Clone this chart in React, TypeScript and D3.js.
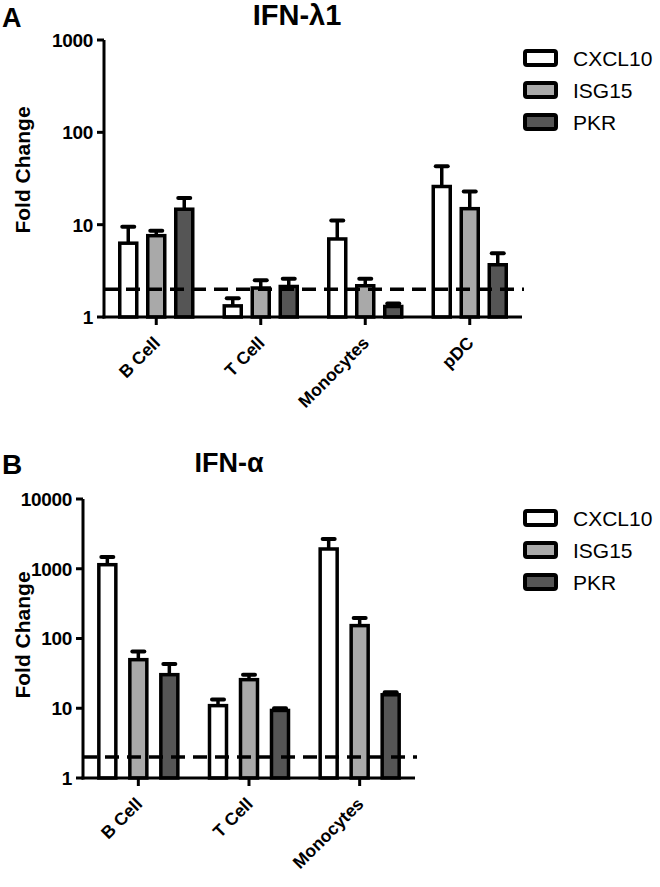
import React from "react";
import * as d3 from "d3";

const seriesNames = ["CXCL10", "ISG15", "PKR"];
const seriesFill = ["#ffffff", "#a9a9a9", "#555555"];

const catsA = ["B Cell", "T Cell", "Monocytes", "pDC"];
const meanA_CXCL10 = [6.3, 1.32, 7.0, 25.9];
const errA_CXCL10 = [9.5, 1.6, 11.1, 43];
const meanA_ISG15 = [7.6, 2.06, 2.18, 14.9];
const errA_ISG15 = [8.6, 2.5, 2.6, 22.9];
const meanA_PKR = [14.7, 2.14, 1.3, 3.68];
const errA_PKR = [19.4, 2.6, 1.4, 4.9];
const ticksA = [1, 10, 100, 1000];

const catsB = ["B Cell", "T Cell", "Monocytes"];
const meanB_CXCL10 = [1143, 10.9, 1920];
const errB_CXCL10 = [1474, 13.3, 2670];
const meanB_ISG15 = [49.7, 25.7, 153];
const errB_ISG15 = [65.3, 30.3, 197];
const meanB_PKR = [30.3, 9.3, 15.6];
const errB_PKR = [43, 10, 16.9];
const ticksB = [1, 10, 100, 1000, 10000];

const threshold = 2;

type PanelProps = {
  letter: string;
  letterY: number;
  letterSize: number;
  title: string;
  titleX: number;
  titleY: number;
  titleSize: number;
  labelY: number;
  cats: string[];
  means: number[][];
  errs: number[][];
  ticks: number[];
  x0: number;
  x1: number;
  yTop: number;
  yBottom: number;
  groupHalf: number;
  legendX: number;
  legendY: number;
};

function Panel(p: PanelProps) {
  const maxTick = p.ticks[p.ticks.length - 1];
  const y = d3.scaleLog().domain([1, maxTick]).range([p.yBottom, p.yTop]);
  const xc = d3.scaleBand<string>().domain(p.cats).range([p.x0, p.x1]);
  const step = (2 * p.groupHalf) / 3;
  const barW = 17;
  const xs = d3
    .scaleBand<string>()
    .domain(seriesNames)
    .range([-p.groupHalf, p.groupHalf])
    .paddingInner(1 - barW / step)
    .paddingOuter((1 - barW / step) / 2);
  const font = "'Liberation Sans', Arial, sans-serif";
  const axisY = p.yBottom;
  return (
    <g>
      <text x={2} y={p.letterY} fontSize={p.letterSize} fontWeight="bold" fontFamily={font}>{p.letter}</text>
      <text x={p.titleX} y={p.titleY} fontSize={p.titleSize} fontWeight="bold" fontFamily={font} textAnchor="middle">{p.title}</text>
      <text
        transform={`translate(30,${p.labelY}) rotate(-90)`}
        fontSize={21}
        fontWeight="bold"
        fontFamily={font}
        textAnchor="middle"
      >Fold Change</text>
      {p.cats.map((c, ci) => (
        <g key={c}>
          {seriesNames.map((s, si) => {
            const cx = (xc(c) as number) + xc.bandwidth() / 2;
            const bx = cx + (xs(s) as number);
            const m = p.means[si][ci];
            const e = p.errs[si][ci];
            const bxc = bx + xs.bandwidth() / 2;
            return (
              <g key={s}>
                <line x1={bxc} x2={bxc} y1={y(m)} y2={y(e)} stroke="#000" strokeWidth={3.5} />
                <line x1={bxc - 6} x2={bxc + 6} y1={y(e)} y2={y(e)} stroke="#000" strokeWidth={4} strokeLinecap="round" />
                <rect x={bx} y={y(m)} width={xs.bandwidth()} height={axisY - y(m)} fill={seriesFill[si]} stroke="#000" strokeWidth={3.5} />
              </g>
            );
          })}
        </g>
      ))}
      <line x1={p.x0} x2={p.x1 + 2} y1={y(threshold)} y2={y(threshold)} stroke="#000" strokeWidth={3.5} strokeDasharray="14,8" />
      <line x1={p.x0} x2={p.x0} y1={p.yTop} y2={axisY + 1.5} stroke="#000" strokeWidth={3} />
      {p.ticks.map((t) => (
        <g key={t}>
          <line x1={p.x0 - 7} x2={p.x0} y1={y(t)} y2={y(t)} stroke="#000" strokeWidth={3} />
          <text x={p.x0 - 11} y={y(t)} dy="0.36em" fontSize={19} fontWeight="bold" fontFamily={font} textAnchor="end" letterSpacing={-0.3}>{t}</text>
        </g>
      ))}
      <line x1={p.x0 - 1.5} x2={p.x1} y1={axisY} y2={axisY} stroke="#000" strokeWidth={3} />
      {p.cats.map((c) => {
        const cx = (xc(c) as number) + xc.bandwidth() / 2;
        return (
          <g key={c}>
            <line x1={cx} x2={cx} y1={axisY} y2={axisY + 8} stroke="#000" strokeWidth={3} />
            <text
              transform={`translate(${cx + 5},${axisY + 27}) rotate(-45)`}
              fontSize={17.5}
              fontWeight="bold"
              fontFamily={font}
              textAnchor="end"
            >{c}</text>
          </g>
        );
      })}
      {seriesNames.map((s, si) => (
        <g key={s} transform={`translate(${p.legendX},${p.legendY + si * 32})`}>
          <rect x={0} y={-7} width={31} height={14} rx={2} fill={seriesFill[si]} stroke="#000" strokeWidth={4} />
          <text x={48} y={0} dy="0.36em" fontSize={21} fontFamily={font}>{s}</text>
        </g>
      ))}
    </g>
  );
}

export default function App() {
  return (
    <svg width={660} height={887} style={{ position: "absolute", left: 0, top: 0, background: "#fff" }}>
      <rect width={660} height={887} fill="#fff" />
      <Panel
        letter="A"
        letterY={27}
        letterSize={27}
        title="IFN-λ1"
        titleX={297}
        titleY={25}
        titleSize={29}
        labelY={170}
        cats={catsA}
        means={[meanA_CXCL10, meanA_ISG15, meanA_PKR]}
        errs={[errA_CXCL10, errA_ISG15, errA_PKR]}
        ticks={ticksA}
        x0={104}
        x1={522}
        yTop={40}
        yBottom={317}
        groupHalf={42}
        legendX={525}
        legendY={58}
      />
      <Panel
        letter="B"
        letterY={474}
        letterSize={28}
        title="IFN-α"
        titleX={229}
        titleY={472}
        titleSize={27}
        labelY={635}
        cats={catsB}
        means={[meanB_CXCL10, meanB_ISG15, meanB_PKR]}
        errs={[errB_CXCL10, errB_ISG15, errB_PKR]}
        ticks={ticksB}
        x0={83}
        x1={415}
        yTop={499}
        yBottom={778}
        groupHalf={46.5}
        legendX={525}
        legendY={518}
      />
    </svg>
  );
}
